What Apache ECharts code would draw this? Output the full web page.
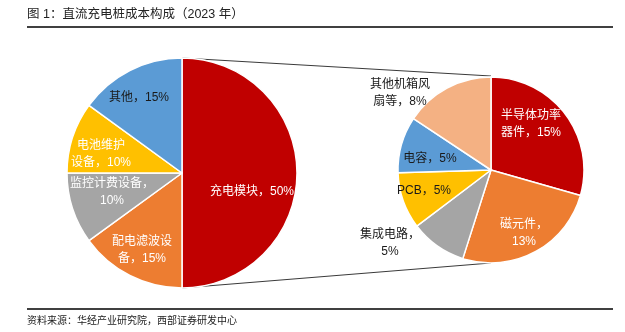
<!DOCTYPE html>
<html>
<head>
<meta charset="utf-8">
<script src="https://cdn.jsdelivr.net/npm/echarts@6/dist/echarts.min.js"></script>
<style>
  html, body { margin: 0; padding: 0; background: #fff; }
  #chart { width: 625px; height: 332px; }
</style>
</head>
<body>
<div id="chart"></div>
<script>
// Cost structure of DC charging piles (2023), share in percent
const mainNames = ['充电模块', '配电滤波设备', '监控计费设备', '电池维护设备', '其他'];
const mainValues = [50, 15, 10, 10, 15];
const mainLabelTpl = ['充电模块，{v}%', '配电滤波设\n备，{v}%', '监控计费设备，\n{v}%', '电池维护\n设备，{v}%', '其他，{v}%'];

// Breakdown of the charging module
const moduleNames = ['半导体功率器件', '磁元件', '集成电路', 'PCB', '电容', '其他机箱风扇等'];
const moduleValues = [15, 13, 5, 5, 5, 8];
const moduleLabelTpl = ['半导体功率\n器件，{v}%', '磁元件，\n{v}%', '集成电路，\n{v}%', 'PCB，{v}%', '电容，{v}%', '其他机箱风\n扇等，{v}%'];

const titleText = '图 1：直流充电桩成本构成（2023 年）';
const sourceText = '资料来源：华经产业研究院，西部证券研发中心';

// ---- layout & style ----
const mainColors = ['#C00000', '#ED7D31', '#A5A5A5', '#FFC000', '#5B9BD5'];
const mainLabelColors = ['#fff', '#fff', '#fff', '#fff', '#1a1a1a'];
const moduleColors = ['#C00000', '#ED7D31', '#A5A5A5', '#FFC000', '#5B9BD5', '#F4B183'];
const moduleLabelColors = ['#fff', '#fff', '#1a1a1a', '#1a1a1a', '#1a1a1a', '#1a1a1a'];

const mainPie = { cx: 182, cy: 173, r: 115 };
const modulePie = { cx: 491, cy: 170, r: 93 };

const mainLabelAt = [[252, 192], [142, 250], [112, 192], [101, 154], [139, 98]];
const moduleLabelAt = [[531, 124], [524, 233], [390, 243], [424, 191], [430, 159], [400, 93]];

const FONT = '"Liberation Sans", Arial, "Noto Sans CJK SC", sans-serif';

function buildData(names, values, tpls, colors, labelColors) {
  return names.map((n, i) => ({
    name: n,
    value: values[i],
    itemStyle: { color: colors[i] },
    label: {
      formatter: tpls[i].replace('{v}', values[i]),
      color: labelColors[i]
    }
  }));
}

function pieSeries(geo, data, labelAt) {
  return {
    type: 'pie',
    center: [geo.cx, geo.cy],
    radius: [0, geo.r],
    startAngle: 90,
    clockwise: true,
    avoidLabelOverlap: false,
    silent: true,
    animation: false,
    itemStyle: { borderColor: '#fff', borderWidth: 1.5 },
    label: {
      show: true,
      position: 'inside',
      fontFamily: FONT,
      fontSize: 12,
      lineHeight: 17,
      align: 'center',
      verticalAlign: 'middle'
    },
    labelLine: { show: false },
    labelLayout: function (p) {
      const pos = labelAt[p.dataIndex];
      return { x: pos[0], y: pos[1], align: 'center', verticalAlign: 'middle' };
    },
    data: data
  };
}

const chart = echarts.init(document.getElementById('chart'), null, { renderer: 'canvas' });

const lineStyle = { stroke: '#3a3a3a', lineWidth: 1 };

chart.setOption({
  backgroundColor: '#fff',
  animation: false,
  series: [
    pieSeries(mainPie, buildData(mainNames, mainValues, mainLabelTpl, mainColors, mainLabelColors), mainLabelAt),
    pieSeries(modulePie, buildData(moduleNames, moduleValues, moduleLabelTpl, moduleColors, moduleLabelColors), moduleLabelAt)
  ],
  graphic: [
    {
      type: 'text', left: 27, top: 8, z: 10,
      style: { text: titleText, font: '12.5px ' + FONT, fill: '#222' }
    },
    {
      type: 'line', z: 10,
      shape: { x1: 27, y1: 27, x2: 613, y2: 27 },
      style: { stroke: '#000', lineWidth: 1.5 }
    },
    // connectors from the top and bottom of the main pie to the breakdown pie
    {
      type: 'line', z: 0,
      shape: { x1: mainPie.cx, y1: mainPie.cy - mainPie.r, x2: modulePie.cx, y2: modulePie.cy - modulePie.r - 1 },
      style: lineStyle
    },
    {
      type: 'line', z: 0,
      shape: { x1: mainPie.cx, y1: mainPie.cy + mainPie.r, x2: modulePie.cx, y2: modulePie.cy + modulePie.r },
      style: lineStyle
    },
    {
      type: 'line', z: 10,
      shape: { x1: 27, y1: 309, x2: 613, y2: 309 },
      style: { stroke: '#000', lineWidth: 1.5 }
    },
    {
      type: 'text', left: 27, top: 316, z: 10,
      style: { text: sourceText, font: '10px ' + FONT, fill: '#222' }
    }
  ]
});
</script>
</body>
</html>
